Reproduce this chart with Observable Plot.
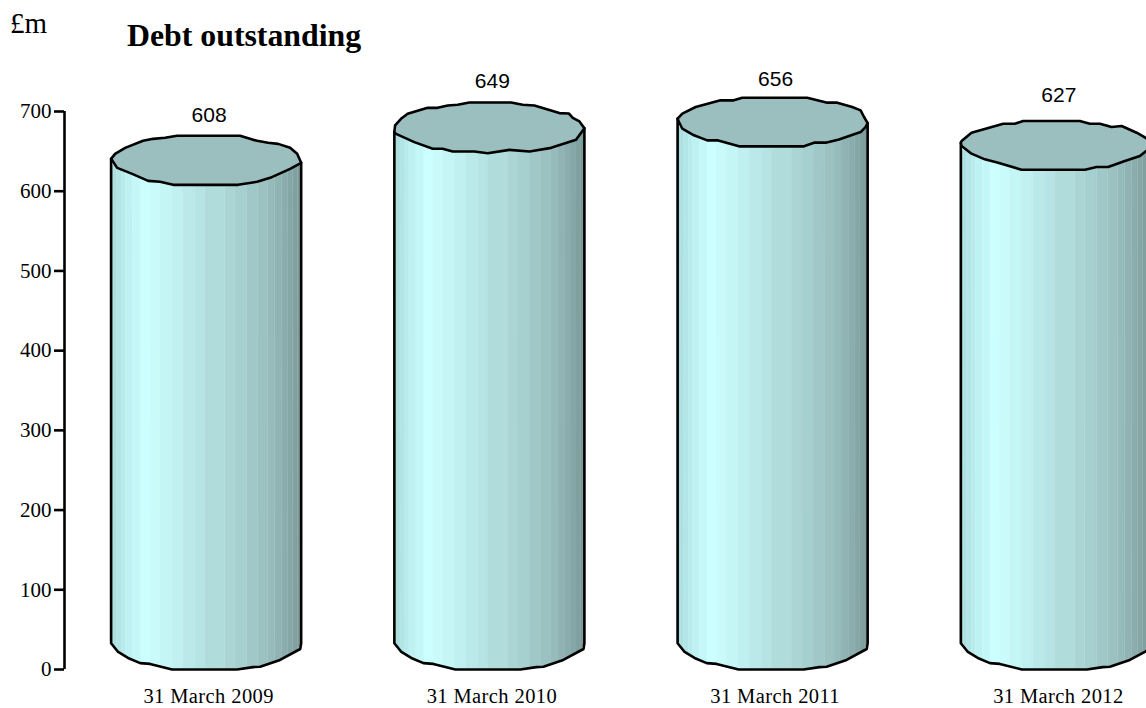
<!DOCTYPE html>
<html>
<head>
<meta charset="utf-8">
<script src="https://cdn.jsdelivr.net/npm/d3@7"></script>
<script src="https://cdn.jsdelivr.net/npm/@observablehq/plot@0.6"></script>
<style>
html,body{margin:0;padding:0;background:#fff;overflow:hidden;width:1146px;height:708px}
#head{position:relative;height:60px;font-family:"Liberation Serif",serif;color:#000}
#unit{position:absolute;left:10px;top:8px;font-size:29px;line-height:30px}
#title{position:absolute;left:127px;top:18px;font-size:31.8px;line-height:36px;font-weight:bold}
#chart svg{display:block;overflow:hidden}
g[aria-label="x-axis tick label"] text{letter-spacing:.4px}
</style>
</head>
<body>
<div id="head"><span id="unit">£m</span><span id="title">Debt outstanding</span></div>
<div id="chart"></div>
<script>
// Chart values
const categories = ["31 March 2009", "31 March 2010", "31 March 2011", "31 March 2012"];
const debt = [608, 649, 656, 627];
const yTicks = [0, 100, 200, 300, 400, 500, 600, 700];

// Cylinder shapes (share of width, £m above the reference level)
const rimF = [
  [0,.021,.074,.168,.221,.284,.347,.679,.768,.826,.879,.942,.979,1,.942,.837,.768,.668,.326,.258,.195,.111,.032],
  [0,.004,.035,.070,.175,.228,.281,.333,.395,.614,.675,.737,.868,.918,.939,.974,1,.956,.825,.711,.605,.491,.421,.307,.254,.202,.105,.009],
  [0,.025,.095,.226,.296,.340,.682,.788,.840,.919,.963,.981,1,.989,.963,.849,.779,.718,.665,.323,.209,.156,.086,.025,.007],
  [0,.004,.056,.223,.284,.328,.626,.679,.732,.793,.846,.925,.977,1,.942,.863,.775,.714,.653,.319,.196,.126,.056,.004]
];
const rimUp = [
  [32.6,38.9,46.4,55.2,57.7,59,61.5,61.5,55.2,52.7,51.4,46.4,38.9,27.6,20,8.8,3.8,0,0,3.8,5,13.8,21.3],
  [25.1,33.5,41.8,48.1,55.6,55.6,58.6,59.4,62.3,62.3,59.4,58.6,49,48.5,43.1,38.5,30.1,15.5,5.4,.8,2.9,-1.3,.8,.8,4.2,4.2,12.6,23],
  [35,41.3,49.6,58,58,61.3,61.3,55.1,55.1,49.6,45.4,37.1,29.5,24.5,18.2,9,4.9,4.9,.3,.3,7.8,7.8,14.1,22.4,30.8],
  [33.9,36,46.4,57.7,57.7,61.1,61.1,57.7,57.7,53.6,54.8,46.4,39.3,28,17.2,10.9,3.3,3.3,0,0,8.8,13,20.1,29.7]
];
const baseF  = [0,.037,.089,.153,.205,.321,.663,.747,.784,.889,.995,1];
const baseUp = [33,22,14.5,8,7,0,0,3,3.5,12,25.7,33];
const shadeEdges = [0,.016,.032,.058,.079,.116,.158,.205,.258,.321,.379,.442,.495,.600,.653,.716,.774,.826,.863,.900,.932,.958,.984,1];
const shades = ["#a6d8d8","#acdfdf","#b2e5e5","#b8ebeb","#bef1f1","#c4f8f8","#ccffff","#c9fbfb","#c5f6f6","#c0f0f0","#bbe9e9","#b6e3e3","#b1dcdc","#abd5d5","#a6cfcf","#a0c8c8","#9bc1c1","#96bbbb","#90b4b4","#8badad","#86a7a7","#81a1a1","#7c9a9a"];
const labelLift = [87, 89, 85, 93];

const span = 0.671;
const xAt = (i, f) => i + (f - 0.5) * span;
const baseAt = d3.scaleLinear().domain(baseF).range(baseUp);

const stripes = [];
const rims = [];
const bodies = [];
debt.forEach((v, i) => {
  shades.forEach((c, s) => {
    [shadeEdges[s], shadeEdges[s + 1]].forEach(f => {
      stripes.push({id: i + "-" + s, x: xAt(i, f), y1: baseAt(f), y2: v + 24, color: c});
    });
  });
  const fs = rimF[i], ups = rimUp[i];
  fs.concat(fs[0]).forEach((f, k) => {
    rims.push({id: i, x: xAt(i, f), y: v + ups[k % ups.length]});
  });
  bodies.push({id: i, x: xAt(i, 0), y: v + ups[0]});
  baseF.forEach((f, k) => bodies.push({id: i, x: xAt(i, f), y: baseUp[k]}));
  bodies.push({id: i, x: xAt(i, 1), y: v + ups[fs.indexOf(1)]});
});

const chart = Plot.plot({
  width: 1146,
  height: 648,
  marginLeft: 64,
  marginTop: 51,
  marginBottom: 39,
  marginRight: 0,
  style: {fontFamily: "'Liberation Serif',serif", fontSize: "20px", background: "#fff", color: "#000"},
  x: {domain: [-0.5, 3.5], range: [64, 1197], axis: null},
  y: {domain: [0, 700], axis: null},
  marks: [
    Plot.area(stripes, {x1: "x", y1: "y1", y2: "y2", z: "id", fill: "color", stroke: "color", strokeWidth: 0.3}),
    Plot.line(bodies, {x: "x", y: "y", z: "id", stroke: "#000", strokeWidth: 2.6, fill: "none", strokeLinejoin: "round"}),
    Plot.line(rims, {x: "x", y: "y", z: "id", fill: "#9bbfbf", stroke: "#000", strokeWidth: 2.6, strokeLinejoin: "round"}),
    Plot.ruleX([-0.5], {y1: 0, y2: 700, stroke: "#000", strokeWidth: 2.6}),
    Plot.axisY({ticks: yTicks, tickSize: 10, tickPadding: 3, label: null, stroke: "#000", strokeWidth: 2.6, fontSize: 21, anchor: "left", tickFormat: d => d}),
    Plot.axisX({ticks: [0, 1, 2, 3], tickSize: 0, tickPadding: 19, label: null, fontSize: 20.5, dx: 2.5, tickFormat: i => categories[i]}),
    Plot.text(debt, {
      x: (d, i) => i, y: (d, i) => d + labelLift[i], text: d => String(d), dx: 3,
      fontFamily: "'Liberation Sans',sans-serif", fontSize: 21, fill: "#000"
    })
  ]
});
document.getElementById("chart").appendChild(chart);
</script>
</body>
</html>
